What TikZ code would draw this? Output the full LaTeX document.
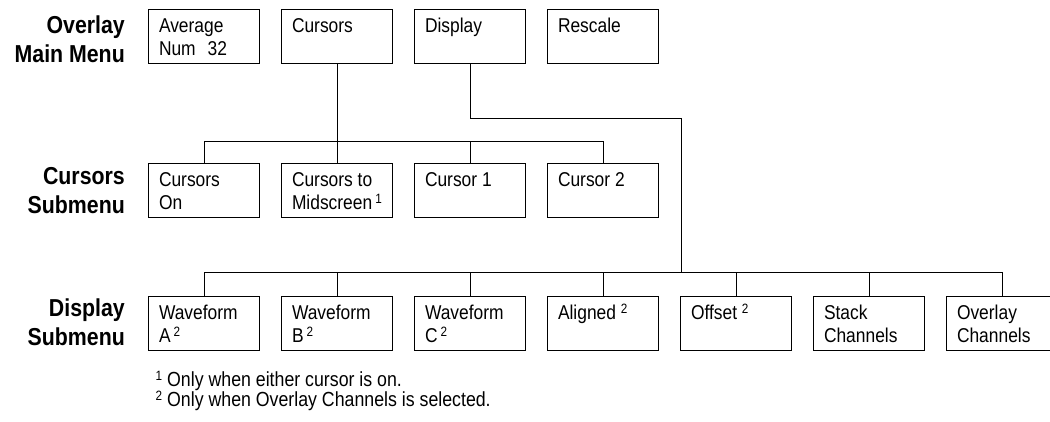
\documentclass[tikz,border=0pt]{standalone}
\usepackage{fontspec}
\setmainfont{Liberation Sans}[FakeStretch=0.87]
\usetikzlibrary{positioning}

\newcommand{\fnmark}[1]{\raisebox{5.5pt}{\fontsize{13.5pt}{13.5pt}\selectfont #1}}
\newcommand{\menutext}[1]{\vbox to 54pt{\hsize=111pt\parindent=0pt\leftskip=10.5pt
  \rightskip=0pt plus 1fil\hbadness=10000\baselineskip=23pt\lineskip=0pt
  \lineskiplimit=-100pt\vskip-0.5pt\prevdepth=0pt\noindent #1\par\vfil}}

\tikzset{
  menubox/.style={draw, line width=1pt, inner sep=0pt, anchor=north west,
    font=\fontsize{20pt}{23pt}\selectfont},
  rowlabel/.style={anchor=base east, align=right, inner sep=0pt,
    font=\fontsize{24.5pt}{29pt}\selectfont\bfseries},
  fnote/.style={anchor=base west, align=left, inner sep=0pt,
    font=\fontsize{20.4pt}{20pt}\selectfont},
  wire/.style={line width=1pt}
}

\begin{document}
\begin{tikzpicture}[x=1pt, y=-1pt, node distance=5mm and 21pt]
\useasboundingbox (0,0) rectangle (1050,421);

% row labels (anchored at the last line)
\node[rowlabel] (lmain) at (125,62.3) {Overlay\\Main Menu};
\node[rowlabel] (lcur) at (125,213.3) {Cursors\\Submenu};
\node[rowlabel] (ldisp) at (125,345) {Display\\Submenu};

% main menu
\node[menubox] (mavg) at (148,9) {\menutext{Average\\Num\hspace{12pt}32}};
\node[menubox, right=of mavg] (mcur) {\menutext{Cursors}};
\node[menubox, right=of mcur] (mdisp) {\menutext{Display}};
\node[menubox, right=of mdisp] (mres) {\menutext{Rescale}};

% cursors submenu
\node[menubox] (con) at (148,163.3) {\menutext{Cursors\\On}};
\node[menubox, right=of con] (cmid) {\menutext{Cursors to\\Midscreen\hspace{3pt}\fnmark{1}}};
\node[menubox, right=of cmid] (cone) {\menutext{Cursor 1}};
\node[menubox, right=of cone] (ctwo) {\menutext{Cursor 2}};

% display submenu
\node[menubox] (dwa) at (148,296) {\menutext{Waveform\\A\hspace{3pt}\fnmark{2}}};
\node[menubox, right=of dwa] (dwb) {\menutext{Waveform\\B\hspace{3pt}\fnmark{2}}};
\node[menubox, right=of dwb] (dwc) {\menutext{Waveform\\C\hspace{3pt}\fnmark{2}}};
\node[menubox, right=of dwc] (dal) {\menutext{Aligned \fnmark{2}}};
\node[menubox, right=of dal] (dof) {\menutext{Offset \fnmark{2}}};
\node[menubox, right=of dof] (dst) {\menutext{Stack\\Channels}};
\node[menubox, right=of dst] (dov) {\menutext{Overlay\\Channels}};

% connectors
\coordinate (cbus) at (0,141);
\coordinate (djog) at (681.5,118.5);
\coordinate (dbus) at (0,272.7);
\draw[wire] (mcur.south) -- (cmid.north);
\draw[wire] (con.north) |- (ctwo.north |- cbus) -- (ctwo.north);
\draw[wire] (cone.north) -- (cone.north |- cbus);
\draw[wire] (mdisp.south) |- (djog) -- (djog |- dbus);
\draw[wire] (dwa.north) |- (dov.north |- dbus) -- (dov.north);
\foreach \n in {dwb,dwc,dal,dof,dst}
  \draw[wire] (\n.north) -- (\n.north |- dbus);

% footnotes
\node[fnote] (notes) at (155.5,406) {\fnmark{1} Only when either cursor is on.\\\fnmark{2} Only when Overlay Channels is selected.};
\end{tikzpicture}
\end{document}
